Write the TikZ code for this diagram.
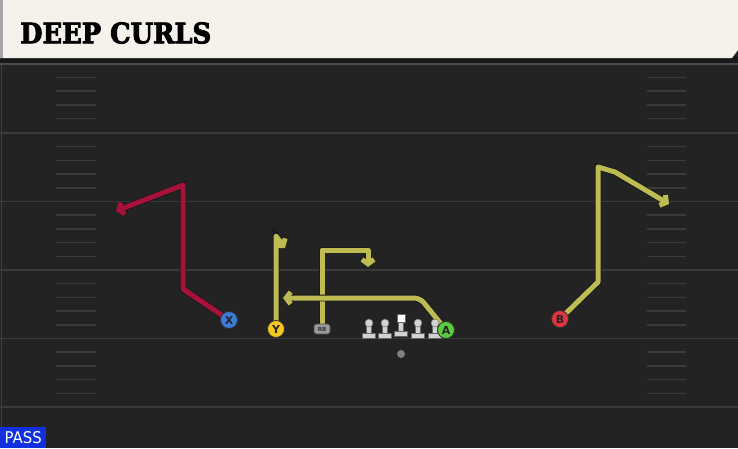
\documentclass[tikz,border=0pt]{standalone}
\usepackage{fontspec}
\usetikzlibrary{arrows.meta}
\newfontfamily\titlefont{DejaVu Serif}[UprightFont=* Bold, FakeBold=3]
\newfontfamily\labfont{DejaVu Sans}[BoldFont=* Bold]
\definecolor{field}{HTML}{232323}
\definecolor{cream}{HTML}{F4F2EB}
\definecolor{yardline}{HTML}{3A3A3A}
\definecolor{routeR}{HTML}{A8123A}
\definecolor{routeY}{HTML}{BDBB52}
\definecolor{pX}{HTML}{3B7DDD}
\definecolor{pY}{HTML}{F4C81F}
\definecolor{pA}{HTML}{5BCB3A}
\definecolor{pB}{HTML}{E0353F}
\definecolor{passblue}{HTML}{1230E0}
\definecolor{lineman}{HTML}{D2D2D2}
\pgfdeclarelayer{bg}
\pgfdeclarelayer{routes}
\pgfsetlayers{bg,routes,main}
\tikzset{
  route/.style={line width=5pt, line join=round, line cap=round,
    preaction={draw=black!90, line width=6.6pt}},
  tipped/.style={-{Straight Barb[length=4.5pt,width=12pt]}},
  player/.style={circle, minimum size=17pt, inner sep=0pt, draw=black!80, line width=0.8pt,
    font=\labfont\bfseries\fontsize{11}{11}\selectfont, text=black!85},
  yard/.style={draw=yardline, line width=1.8pt},
  hash/.style={draw=yardline, line width=1.5pt},
  lm/.style={fill=lineman, draw=black!60, line width=0.4pt},
}
\begin{document}
\begin{tikzpicture}[x=1pt,y=-1pt]
\useasboundingbox (0,0) rectangle (738,448);
\begin{pgfonlayer}{bg}
  \fill[field] (0,0) rectangle (738,448);
  \fill[black!90] (0,56) rectangle (738,63);
  \fill[black!70] (0,63) rectangle (738,65);
  \fill[cream] (0,0) -- (738,0) -- (738,50) -- (732,58) -- (0,58) -- cycle;
  \fill[black!35] (0,0) rectangle (3,58);
  \draw[black!75, line width=0.8pt] (1,65) -- (1,448);
  \foreach \yy in {133,201.5,270,338.5,407} {
    \draw[yard] (0,\yy) -- (738,\yy);
  }
  \foreach \yy in {77.5,91.2,104.9,118.6, 146.7,160.4,174.1,187.8, 215.2,228.9,242.6,256.3, 283.7,297.4,311.1,324.8, 352.2,365.9,379.6,393.3} {
    \draw[hash] (56,\yy) -- (96,\yy);
    \draw[hash] (647,\yy) -- (686,\yy);
  }
\end{pgfonlayer}

\node[anchor=west, inner sep=0pt] (title) at (20,33) {\resizebox{191pt}{21pt}{\titlefont DEEP CURLS}};

\node[player, fill=pX] (X) at (229,320) {X};
\node[player, fill=pY] (Y) at (276,329) {Y};
\node[player, fill=pB] (B) at (560,319) {B};
\node[rounded corners=2.5pt, fill=black!40, draw=black!70, line width=0.6pt, minimum width=16pt, minimum height=10pt, inner sep=0pt,
  font=\labfont\bfseries\fontsize{5.5}{5.5}\selectfont, text=black!80] (RB) at (322,329) {RB};

% linemen
\foreach \xx/\nm in {369/L1,385/L2,418/L3,435/L4} {
  \coordinate (\nm) at (\xx,323);
  \filldraw[lm] (\xx-6.5,333) rectangle (\xx+6.5,338);
  \filldraw[lm] (\xx-2.5,324) rectangle (\xx+2.5,333);
  \filldraw[lm] (\nm) circle (4pt);
}
\coordinate (C) at (401,318);
\filldraw[lm] (401-6.5,331) rectangle (401+6.5,336);
\filldraw[lm] (401-2.5,322) rectangle (401+2.5,331);
\filldraw[fill=white, draw=black!60, line width=0.4pt] (397,314) rectangle (405.5,322.5);
\node[player, fill=pA] (A) at (446,330) {A};

\node[circle, fill=black!50, minimum size=8pt, inner sep=0pt] (ball) at (401,354) {};

% routes
\coordinate (x1) at (183,289);
\coordinate (x2) at (183,185);
\coordinate (x3) at (116,211);
\coordinate (y1) at (276,236);
\coordinate (y2) at (285,248);
\coordinate (r1) at (322,250);
\coordinate (r2) at (368,250);
\coordinate (r3) at (368,267);
\coordinate (a1) at (420,298);
\coordinate (a2) at (283,298);
\coordinate (b1) at (598,282);
\coordinate (b2) at (598,167);
\coordinate (b3) at (615,172);
\coordinate (b4) at (669,204);
\begin{pgfonlayer}{routes}
  \draw[route, routeR, tipped] (X.center) -- (x1) -- (x2) -- (x3);
  \draw[route, routeY, tipped] (Y.center) -- (y1) -- (y2);
  \draw[route, routeY, tipped] (RB.center) -- (r1) -- (r2) -- (r3);
  \draw[route, routeY, tipped, rounded corners=6pt] (A.center) -- (a1) -- (a2);
  \draw[route, routeY, tipped] (B.center) -- (b1) -- (b2) -- (b3) -- (b4);
\end{pgfonlayer}

\node[fill=passblue, anchor=south west, inner sep=0pt, minimum width=46pt, minimum height=21pt] (pass) at (0,448) {\resizebox{37pt}{12pt}{\labfont\color{white}PASS}};
\end{tikzpicture}
\end{document}
